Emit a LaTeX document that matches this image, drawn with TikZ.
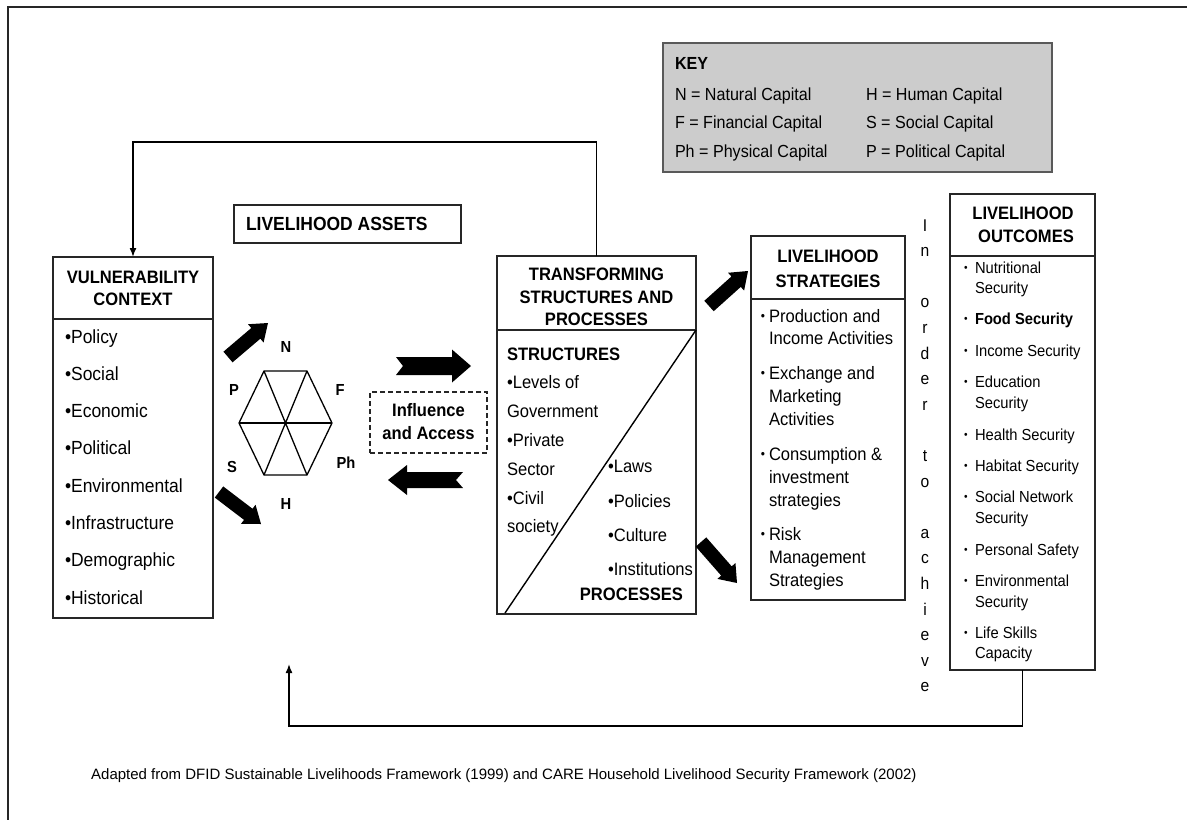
\documentclass[tikz,border=0pt]{standalone}
\usepackage{fontspec}
\setmainfont{Liberation Sans}[FakeStretch=0.92]
\newfontfamily\capfont{Liberation Sans}
\usetikzlibrary{calc,arrows.meta}
\newcommand{\fsz}[1]{\fontsize{#1}{#1}\selectfont}
% block arrow: A, B, half shaft, half head, head length, notch depth
\newcommand{\blockarr}[6]{%
  \coordinate (hb) at ($(#2)!#5!(#1)$);
  \fill[black] ($(#1)!#3!90:(#2)$) -- ($(hb)!#3!90:(#2)$) -- ($(hb)!#4!90:(#2)$) -- (#2)
    -- ($(hb)!#4!-90:(#2)$) -- ($(hb)!#3!-90:(#2)$) -- ($(#1)!#3!-90:(#2)$)
    -- ($(#1)!#6!(#2)$) -- cycle;}
\begin{document}
\begin{tikzpicture}[x=1pt,y=-1pt,
  box/.style={draw=black!85, line width=1.6pt, inner sep=0pt, outer sep=0pt},
  lt/.style={inner sep=0pt, outer sep=0pt, anchor=base west, font=\fsz{18}},
  hd/.style={inner sep=0pt, outer sep=0pt, anchor=base, font=\fsz{18}\bfseries},
  ot/.style={inner sep=0pt, outer sep=0pt, anchor=base west, font=\fsz{16}},
  bul/.style={inner sep=0pt, outer sep=0pt, anchor=base},
  kt/.style={inner sep=0pt, outer sep=0pt, anchor=base west, font=\fsz{17.5}},
  hx/.style={inner sep=0pt, font=\fsz{16}\bfseries},
  vt/.style={inner sep=0pt, anchor=base, font=\fsz{17}},
  fb/.style={line width=1.5pt, -{Latex[length=9pt,width=7pt]}},
  divl/.style={line width=1.6pt, black!85}]
\useasboundingbox (0,0) rectangle (1187,820);
% outer frame
\draw[line width=2.2pt, black!85] (1187,7) -- (8,7) -- (8,820);

% KEY
\node[box, fill=gray!40, draw=black!65, minimum width=389pt, minimum height=129pt] (key) at (857.5,107.5) {};
\node[kt, font=\fsz{17.5}\bfseries] (k0) at (675,69) {KEY};
\node[kt] (k1) at (675,100) {N = Natural Capital};
\node[kt] (k2) at (866,100) {H = Human Capital};
\node[kt] (k3) at (675,128.5) {F = Financial Capital};
\node[kt] (k4) at (866,128.5) {S = Social Capital};
\node[kt] (k5) at (675,157) {Ph = Physical Capital};
\node[kt] (k6) at (866,157) {P = Political Capital};

% LIVELIHOOD ASSETS
\node[box, minimum width=227pt, minimum height=38pt] (assets) at (347.5,224) {};
\node[lt, font=\fsz{19}\bfseries] (assetst) at (246,230) {LIVELIHOOD ASSETS};

% VULNERABILITY CONTEXT
\node[box, minimum width=160pt, minimum height=361pt] (vuln) at (133,437.5) {};
\draw[divl] (vuln.west |- 0,319) -- (vuln.east |- 0,319);
\node[hd] (vh1) at (133,283) {VULNERABILITY};
\node[hd] (vh2) at (133,305) {CONTEXT};
\foreach \t [count=\i from 0] in {Policy,Social,Economic,Political,Environmental,Infrastructure,Demographic,Historical}
  \node[lt, font=\fsz{19}] (vi\i) at (65,343+\i*37.3) {•\t};

% hexagon
\coordinate (x1) at (264,371); \coordinate (x2) at (307,371);
\coordinate (x3) at (332,423); \coordinate (x4) at (307,475);
\coordinate (x5) at (264,475); \coordinate (x6) at (239,423);
\draw[line width=1.3pt] (x1) -- (x2) -- (x3) -- (x4) -- (x5) -- (x6) -- cycle;
\draw[line width=1.3pt] (x1) -- (x4) (x2) -- (x5);
\draw[line width=2.6pt] (x6) -- (x3);
\node[hx] (hN) at (286,347) {N};
\node[hx] (hP) at (234,390) {P};
\node[hx] (hF) at (340,390) {F};
\node[hx] (hS) at (232,467) {S};
\node[hx] (hPh) at (346,463) {Ph};
\node[hx] (hH) at (286,504) {H};

% block arrows around assets
\coordinate (a1s) at (228,357); \coordinate (a1e) at (268,323);
\blockarr{a1s}{a1e}{7pt}{12pt}{16pt}{0pt}
\coordinate (a2s) at (219,492); \coordinate (a2e) at (261,524);
\blockarr{a2s}{a2e}{7pt}{12pt}{16pt}{0pt}
\coordinate (a3s) at (396,366); \coordinate (a3e) at (471,366);
\blockarr{a3s}{a3e}{9pt}{16.5pt}{19pt}{7pt}
\coordinate (a4s) at (463,480); \coordinate (a4e) at (388,480);
\blockarr{a4s}{a4e}{8pt}{15pt}{19pt}{7pt}

% Influence and Access
\node[draw=black!85, line width=1.5pt, dash pattern=on 5pt off 3pt, inner sep=0pt,
      minimum width=117pt, minimum height=61pt] (infl) at (428.5,422.5) {};
\node[hd] (inf1) at (428.5,416) {Influence};
\node[hd] (inf2) at (428.5,439) {and Access};

% TRANSFORMING STRUCTURES AND PROCESSES
\node[box, minimum width=199pt, minimum height=358pt] (trans) at (596.5,435) {};
\draw[divl] (trans.west |- 0,330) -- (trans.east |- 0,330);
\draw[line width=1.4pt] (trans.east |- 0,330) -- (505,613);
\node[hd] (th1) at (596.5,280) {TRANSFORMING};
\node[hd] (th2) at (596.5,303) {STRUCTURES AND};
\node[hd] (th3) at (596.5,325.5) {PROCESSES};
\node[lt, font=\fsz{18}\bfseries] (ts0) at (507,360) {STRUCTURES};
\node[lt] (ts1) at (507,388) {•Levels of};
\node[lt] (ts2) at (507,417) {Government};
\node[lt] (ts3) at (507,446) {•Private};
\node[lt] (ts4) at (507,475) {Sector};
\node[lt] (ts5) at (507,504) {•Civil};
\node[lt] (ts6) at (507,532) {society};
\node[lt] (tp1) at (608,472) {•Laws};
\node[lt] (tp2) at (608,507) {•Policies};
\node[lt] (tp3) at (608,541) {•Culture};
\node[lt] (tp4) at (608,575) {•Institutions};
\node[hd, anchor=base east] (tp0) at (683,600) {PROCESSES};

% arrows to strategies
\coordinate (a5s) at (709,306); \coordinate (a5e) at (748,271);
\blockarr{a5s}{a5e}{7pt}{12pt}{16pt}{0pt}
\coordinate (a6s) at (701,542); \coordinate (a6e) at (737,583);
\blockarr{a6s}{a6e}{7pt}{12pt}{16pt}{0pt}

% LIVELIHOOD STRATEGIES
\node[box, minimum width=154pt, minimum height=364pt] (strat) at (828,418) {};
\draw[divl] (strat.west |- 0,299) -- (strat.east |- 0,299);
\node[hd] (sh1) at (828,262) {LIVELIHOOD};
\node[hd] (sh2) at (828,287) {STRATEGIES};
\foreach \yy in {322,379,460,540}
  \node[bul, font=\fsz{13}] at (763,\yy-2) {•};
\node[lt] (s1) at (769,322) {Production and};
\node[lt] (s2) at (769,344) {Income Activities};
\node[lt] (s3) at (769,379) {Exchange and};
\node[lt] (s4) at (769,402) {Marketing};
\node[lt] (s5) at (769,425) {Activities};
\node[lt] (s6) at (769,460) {Consumption \&};
\node[lt] (s7) at (769,483) {investment};
\node[lt] (s8) at (769,506) {strategies};
\node[lt] (s9) at (769,540) {Risk};
\node[lt] (s10) at (769,563) {Management};
\node[lt] (s11) at (769,586) {Strategies};

% In order to achieve
\foreach \ch [count=\i from 0] in {I,n,{},o,r,d,e,r,{},t,o,{},a,c,h,i,e,v,e}
  \node[vt] (v\i) at (925,231+\i*25.6) {\ch};

% LIVELIHOOD OUTCOMES
\node[box, minimum width=145pt, minimum height=476pt] (outc) at (1022.5,432) {};
\draw[divl] (outc.west |- 0,256) -- (outc.east |- 0,256);
\node[hd] (oh1) at (1023,219) {LIVELIHOOD};
\node[hd] (oh2) at (1026,242) {OUTCOMES};
\foreach \yy in {273,324,356,387,440,471,502,555,586,638}
  \node[bul, font=\fsz{11}] at (966,\yy-2) {•};
\node[ot] (o1) at (975,273) {Nutritional};
\node[ot] (o2) at (975,293) {Security};
\node[ot, font=\fsz{16}\bfseries] (o3) at (975,324) {Food Security};
\node[ot] (o4) at (975,356) {Income Security};
\node[ot] (o5) at (975,387) {Education};
\node[ot] (o6) at (975,408) {Security};
\node[ot] (o7) at (975,440) {Health Security};
\node[ot] (o8) at (975,471) {Habitat Security};
\node[ot] (o9) at (975,502) {Social Network};
\node[ot] (o10) at (975,523) {Security};
\node[ot] (o11) at (975,555) {Personal Safety};
\node[ot] (o12) at (975,586) {Environmental};
\node[ot] (o13) at (975,607) {Security};
\node[ot] (o14) at (975,638) {Life Skills};
\node[ot] (o15) at (975,658) {Capacity};

% feedback loops
\coordinate (tl) at (0,142);
\draw[fb] (trans.north) -- (trans.north |- tl) -| (vuln.north);
\coordinate (bl) at (0,726);
\coordinate (ret) at (289,664);
\draw[fb] (outc.south) -- (outc.south |- bl) -| (ret);

% caption
\node[inner sep=0pt, anchor=base west, font=\capfont\fsz{15}] (cap) at (91,779)
  {Adapted from DFID Sustainable Livelihoods Framework (1999) and CARE Household Livelihood Security Framework (2002)};
\end{tikzpicture}
\end{document}
